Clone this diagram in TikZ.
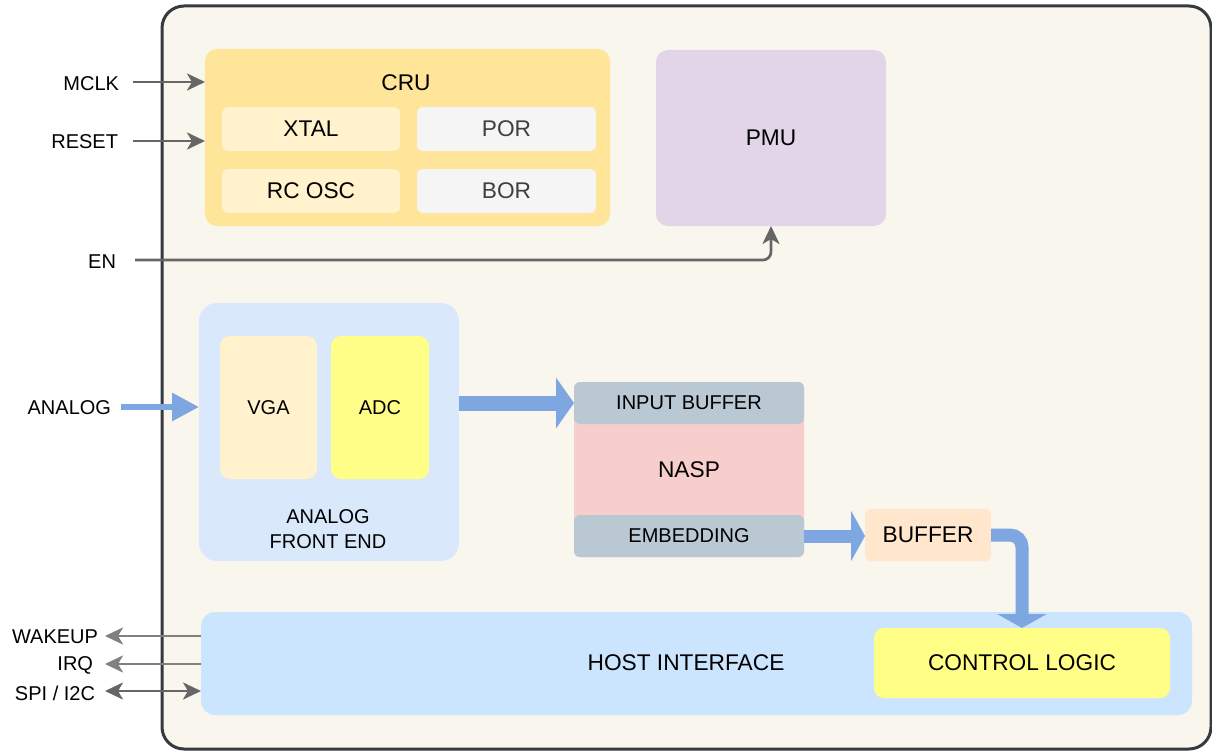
\documentclass[tikz,border=0pt]{standalone}
\usepackage{fontspec}
\setmainfont{Liberation Sans}
\usetikzlibrary{arrows.meta}
\definecolor{framec}{HTML}{36393D}
\definecolor{bgfill}{HTML}{F9F6EE}
\definecolor{cruc}{HTML}{FFE599}
\definecolor{lightyel}{HTML}{FFF2CC}
\definecolor{greyc}{HTML}{F5F5F5}
\definecolor{pmuc}{HTML}{E1D5E7}
\definecolor{afec}{HTML}{DAE8FC}
\definecolor{yelc}{HTML}{FFFF88}
\definecolor{slatec}{HTML}{BAC8D3}
\definecolor{nasp}{HTML}{F8CECC}
\definecolor{bufc}{HTML}{FFE6CC}
\definecolor{hostc}{HTML}{CCE5FF}
\definecolor{bluearr}{HTML}{7EA6E0}
\definecolor{arrgray}{HTML}{666666}
\definecolor{arrgray2}{HTML}{808080}
\definecolor{txtgray}{HTML}{404040}
\begin{document}
\begin{tikzpicture}[x=1pt,y=-1pt,
  box/.style={draw=none, rectangle, inner sep=0pt, outer sep=0pt, rounded corners=6pt, align=center},
  big/.style={font=\fontsize{22.7}{27}\selectfont},
  small/.style={font=\fontsize{20}{24.5}\selectfont},
  lbl/.style={inner sep=0pt, outer sep=0pt, align=center},
  garrow/.style={draw=arrgray, line width=2.7pt, -{Stealth[length=18pt,width=17pt,inset=5pt]}},
  garrowl/.style={draw=arrgray2, line width=2.7pt, -{Stealth[length=18pt,width=17pt,inset=5pt]}},
  gdouble/.style={draw=arrgray, line width=2.7pt, {Stealth[length=18pt,width=17pt,inset=5pt]}-{Stealth[length=18pt,width=17pt,inset=5pt]}},
]
\useasboundingbox (0,0) rectangle (1212,752);
\begin{scope}
  \clip (0,0) rectangle (1212,752);
  \draw[fill=bgfill, draw=framec, line width=3pt, rounded corners=22pt] (162,6) rectangle (1211,749);
\end{scope}

% CRU
\node[box, fill=cruc, rounded corners=12pt, minimum width=405pt, minimum height=177pt] (cru) at (407.5,137.5) {};
\node[lbl, big] (crul) at (406,83) {CRU};
\node[box, big, fill=lightyel, minimum width=178pt, minimum height=44pt] (xtal) at (311,129) {XTAL};
\node[box, big, fill=greyc, text=txtgray, minimum width=179pt, minimum height=44pt] (por) at (506.5,129) {POR};
\node[box, big, fill=lightyel, minimum width=178pt, minimum height=44pt] (rcosc) at (311,191) {RC OSC};
\node[box, big, fill=greyc, text=txtgray, minimum width=179pt, minimum height=44pt] (bor) at (506.5,191) {BOR};

% PMU
\node[box, big, fill=pmuc, rounded corners=12pt, minimum width=230pt, minimum height=176pt] (pmu) at (771,138) {PMU};

% AFE
\node[box, fill=afec, rounded corners=18pt, minimum width=260pt, minimum height=258pt] (afe) at (329,432) {};
\node[box, small, fill=lightyel, rounded corners=10pt, minimum width=97pt, minimum height=143pt] (vga) at (268.5,407.5) {VGA};
\node[box, small, fill=yelc, rounded corners=10pt, minimum width=98pt, minimum height=143pt] (adc) at (380,407.5) {ADC};
\node[lbl, small] (afel) at (328,529) {ANALOG\\FRONT END};

% NASP
\node[box, fill=nasp, minimum width=230pt, minimum height=175pt] (nasp) at (689,469.5) {};
\node[lbl, big] (naspl) at (689,470) {NASP};
\node[box, small, fill=slatec, minimum width=230pt, minimum height=42pt] (inbuf) at (689,403) {INPUT BUFFER};
\node[box, small, fill=slatec, minimum width=230pt, minimum height=42pt] (embed) at (689,536) {EMBEDDING};

% BUFFER
\node[box, big, fill=bufc, minimum width=126pt, minimum height=52pt] (buffer) at (928,535) {BUFFER};

% HOST
\node[box, fill=hostc, rounded corners=14pt, minimum width=991pt, minimum height=103pt] (host) at (696.5,663.5) {};
\node[lbl, big] (hostl) at (686,663) {HOST INTERFACE};
\node[box, big, fill=yelc, rounded corners=10pt, minimum width=296pt, minimum height=70pt] (ctrl) at (1022,663) {CONTROL LOGIC};

% Left labels
\node[lbl, small, anchor=east] (mclk) at (119,84) {MCLK};
\node[lbl, small, anchor=east] (reset) at (118,142) {RESET};
\node[lbl, small, anchor=east] (en) at (116,262) {EN};
\node[lbl, small, anchor=east] (analog) at (111,408) {ANALOG};
\node[lbl, small, anchor=east] (wakeup) at (98,637) {WAKEUP};
\node[lbl, small, anchor=east] (irq) at (93,665) {IRQ};
\node[lbl, small, anchor=east] (spi) at (95,693) {SPI / I2C};

\coordinate (mclks) at (133,82);
\coordinate (resets) at (133,141);
\coordinate (ens) at (135,260);
\coordinate (analogs) at (121,407);
\coordinate (wakeupe) at (105,636);
\coordinate (irqe) at (105,664);
\coordinate (spie) at (105,691);

% grey arrows
\draw[garrow] (mclks) -- (mclks -| cru.west);
\draw[garrow] (resets) -- (resets -| cru.west);
\draw[garrow, rounded corners=8pt] (ens) -| (pmu.south);
\draw[garrowl] (wakeupe -| host.west) -- (wakeupe);
\draw[garrowl] (irqe -| host.west) -- (irqe);
\draw[gdouble] (spie) -- (spie -| host.west);

% blue arrows
\draw[bluearr, line width=6pt, -{Triangle[length=27pt,width=27pt]}] (analogs) -- (analogs -| afe.west);
\draw[bluearr, line width=15pt, -{Triangle[length=18pt,width=50pt]}] (afe.east |- inbuf.west) -- (inbuf.west);
\draw[bluearr, line width=13pt, -{Triangle[length=14pt,width=50pt]}] (embed.east) -- (embed.east -| buffer.west);
\draw[bluearr, line width=13pt, rounded corners=12pt, -{Triangle[length=14pt,width=49pt]}] (buffer.east) -| (ctrl.north);
\end{tikzpicture}
\end{document}
